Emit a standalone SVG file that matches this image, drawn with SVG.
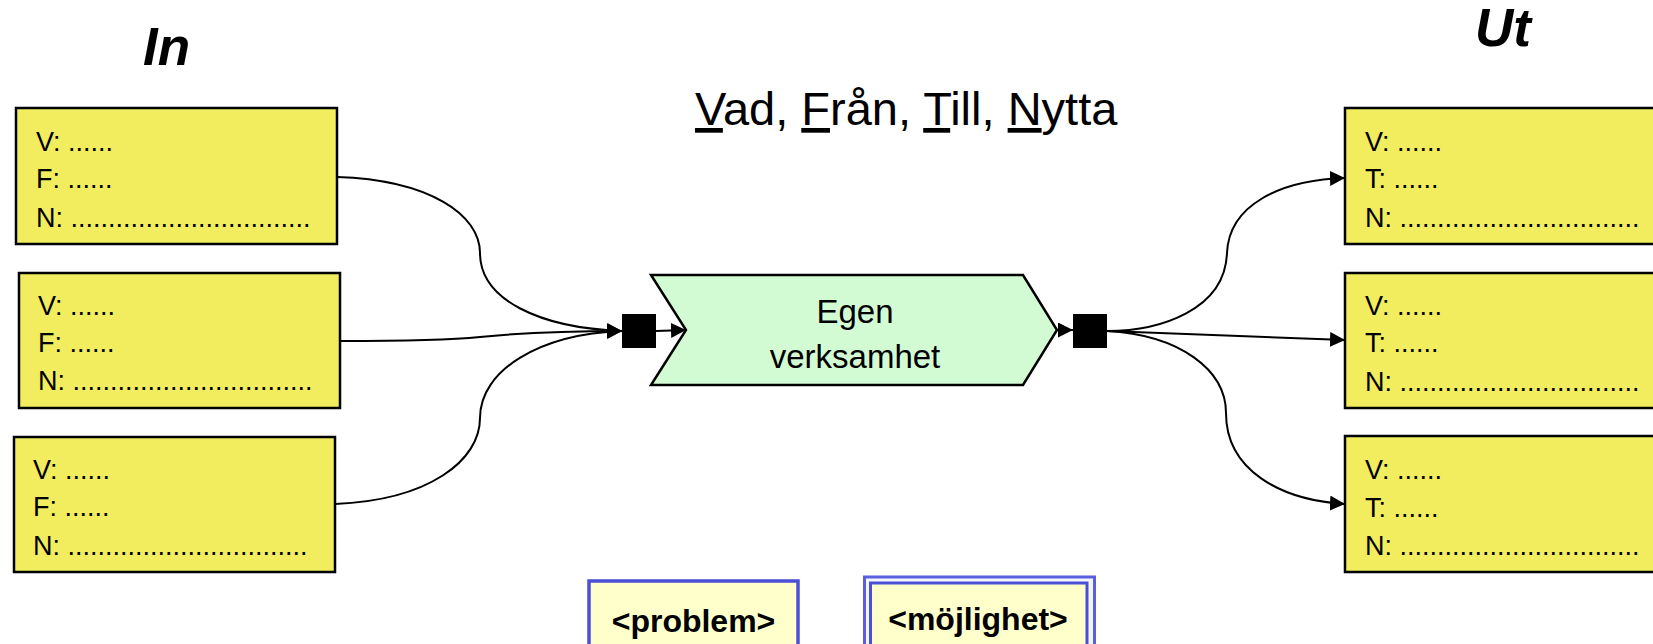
<svg xmlns="http://www.w3.org/2000/svg" width="1653" height="644" viewBox="0 0 1653 644">
<style>
.box{fill:#f1ed5e;stroke:#000;stroke-width:2.5}
.t{font-family:"Liberation Sans",Arial,sans-serif;font-size:27px;fill:#000}
.con{fill:none;stroke:#000;stroke-width:2}
.hd{font-family:"Liberation Sans",Arial,sans-serif;font-size:53px;font-weight:bold;font-style:italic;fill:#000}
.lbl{font-family:"Liberation Sans",Arial,sans-serif;font-size:32px;font-weight:bold;fill:#000;text-anchor:middle}
</style>
<defs>
<marker id="arr" viewBox="0 0 15 15" refX="15" refY="7.5" markerWidth="15" markerHeight="15" markerUnits="userSpaceOnUse" orient="auto">
<path d="M0,0 L15,7.5 L0,15 z" fill="#000"/>
</marker>
</defs>
<rect width="1653" height="644" fill="#fff"/>

<text class="hd" x="143" y="65">In</text>
<text class="hd" x="1475" y="46">Ut</text>

<text id="title" x="695" y="125" font-family="Liberation Sans, Arial, sans-serif" font-size="47" fill="#000"><tspan text-decoration="underline">V</tspan>ad, <tspan text-decoration="underline">F</tspan>rån, <tspan text-decoration="underline">T</tspan>ill, <tspan text-decoration="underline">N</tspan>ytta</text>

<g id="connectors">
<path class="con" d="M337,177 C430,180 480,215 480,253 C480,300 540,328 622,331" marker-end="url(#arr)"/>
<path class="con" d="M340,341 C420,341 460,339 480,337 C520,333 570,331 622,331" marker-end="url(#arr)"/>
<path class="con" d="M335,504 C430,500 480,460 480,418 C480,370 540,334 622,331" marker-end="url(#arr)"/>
<path class="con" d="M656,331 L686,330" marker-end="url(#arr)"/>
<path class="con" d="M1057,330 L1073,330" marker-end="url(#arr)"/>
<path class="con" d="M1107,331 C1160,331 1225,310 1227,253 C1229,205 1280,180 1345,178" marker-end="url(#arr)"/>
<path class="con" d="M1107,331 L1345,340" marker-end="url(#arr)"/>
<path class="con" d="M1107,331 C1180,335 1226,370 1226,413 C1226,470 1280,500 1345,504" marker-end="url(#arr)"/>
</g>

<g id="in1">
<rect class="box" x="16" y="108" width="321" height="136"/>
<text class="t" x="36" y="151">V: ......</text>
<text class="t" x="36" y="188">F: ......</text>
<text class="t" x="36" y="227">N: ................................</text>
</g>
<g id="in2">
<rect class="box" x="19" y="273" width="321" height="135"/>
<text class="t" x="38" y="315">V: ......</text>
<text class="t" x="38" y="352">F: ......</text>
<text class="t" x="38" y="390">N: ................................</text>
</g>
<g id="in3">
<rect class="box" x="14" y="437" width="321" height="135"/>
<text class="t" x="33" y="479">V: ......</text>
<text class="t" x="33" y="516">F: ......</text>
<text class="t" x="33" y="555">N: ................................</text>
</g>

<g id="out1">
<rect class="box" x="1345" y="108" width="330" height="136"/>
<text class="t" x="1365" y="151">V: ......</text>
<text class="t" x="1365" y="188">T: ......</text>
<text class="t" x="1365" y="227">N: ................................</text>
</g>
<g id="out2">
<rect class="box" x="1345" y="273" width="330" height="135"/>
<text class="t" x="1365" y="315">V: ......</text>
<text class="t" x="1365" y="352">T: ......</text>
<text class="t" x="1365" y="391">N: ................................</text>
</g>
<g id="out3">
<rect class="box" x="1345" y="436" width="330" height="136"/>
<text class="t" x="1365" y="479">V: ......</text>
<text class="t" x="1365" y="517">T: ......</text>
<text class="t" x="1365" y="555">N: ................................</text>
</g>

<g id="in-port"><rect x="622" y="314" width="34" height="34" fill="#000"/></g>
<g id="out-port"><rect x="1073" y="314" width="34" height="34" fill="#000"/></g>

<g id="process">
<path d="M651,275 L1023,275 L1057,330 L1023,385 L651,385 L686,330 z" fill="#d3fbd3" stroke="#000" stroke-width="2.5"/>
<text x="855" y="323" font-family="Liberation Sans, Arial, sans-serif" font-size="33" text-anchor="middle" fill="#000">Egen</text>
<text x="855" y="368" font-family="Liberation Sans, Arial, sans-serif" font-size="33" text-anchor="middle" fill="#000">verksamhet</text>
</g>

<g id="problem">
<rect x="589" y="581" width="209" height="80" fill="#ffffcc" stroke="#4b4fd8" stroke-width="3.5"/>
<text class="lbl" x="693.5" y="632">&lt;problem&gt;</text>
</g>
<g id="mojlighet">
<rect x="864.5" y="577" width="230" height="80" fill="#f4f4fb" stroke="#5a5ee0" stroke-width="3"/>
<rect x="870.5" y="583" width="216.5" height="80" fill="#ffffcc" stroke="#4b4fd8" stroke-width="3"/>
<text class="lbl" x="978" y="630">&lt;möjlighet&gt;</text>
</g>
</svg>
